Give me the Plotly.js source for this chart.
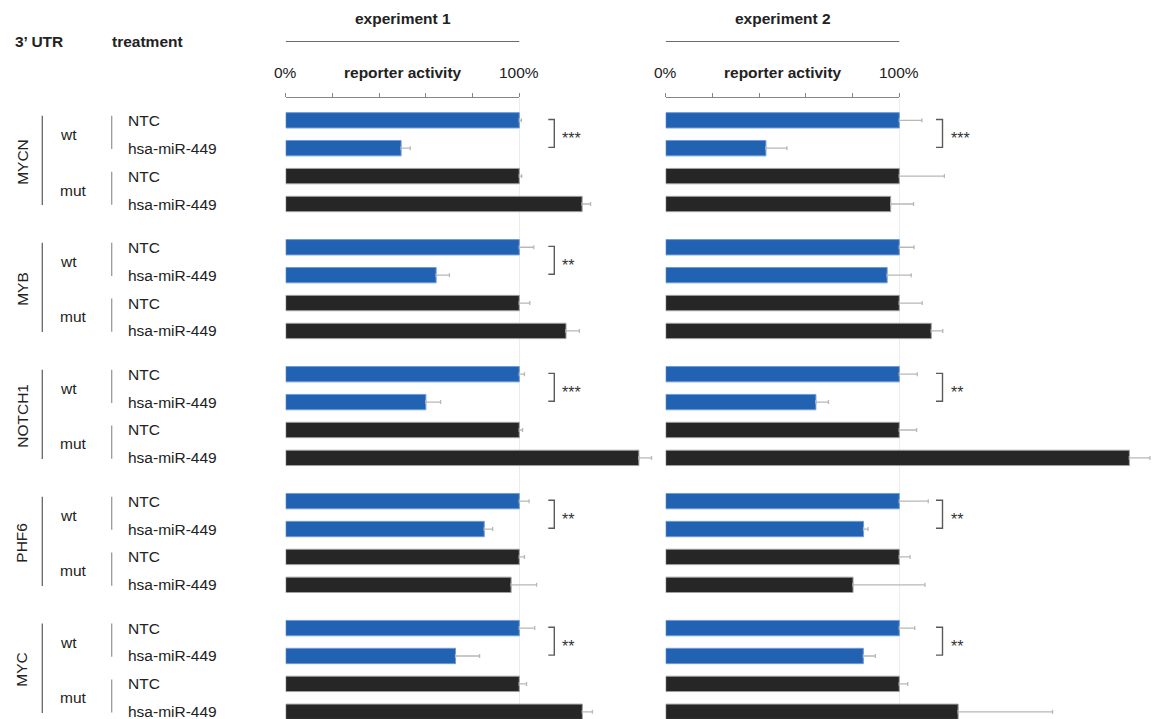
<!DOCTYPE html>
<html>
<head>
<meta charset="utf-8">
<script src="https://cdn.plot.ly/plotly-3.0.1.min.js"></script>
<style>
  html, body { margin: 0; padding: 0; background: #ffffff; }
  #chart { width: 1157px; height: 719px; }
</style>
</head>
<body>
<div id="chart"></div>
<script>
// ---- data ----
const genes = ['MYCN', 'MYB', 'NOTCH1', 'PHF6', 'MYC'];
const utrTypes = ['wt', 'mut'];
const treatments = ['NTC', 'hsa-miR-449'];

// reporter activity (% of NTC), row order: gene > wt/mut > NTC/hsa-miR-449
const exp1Activity = [100, 49.4, 100, 126.9,  100, 64.4, 100, 120.0,  100, 60.0, 100, 151.2,  100, 85.0, 100, 96.5,  100, 72.7, 100, 127.0];
const exp1Error    = [0.9, 3.9, 1.0, 3.6,     6.2, 5.7, 4.5, 5.7,     2.2, 6.3, 1.4, 5.4,     4.2, 3.6, 2.2, 10.9,    6.6, 10.3, 3.1, 4.3];
const exp2Activity = [100, 42.9, 100, 96.3,   100, 94.8, 100, 113.7,  100, 64.3, 100, 198.5,  100, 84.7, 100, 80.2,   100, 84.6, 100, 125.2];
const exp2Error    = [9.7, 9.0, 19.3, 9.8,    6.3, 10.3, 9.8, 4.9,    7.7, 5.4, 7.4, 8.8,     12.4, 1.9, 4.6, 30.8,   6.6, 5.1, 3.6, 40.4];

// significance of wt NTC vs wt hsa-miR-449, per gene
const exp1Stars = ['***', '**', '***', '**', '**'];
const exp2Stars = ['***', '', '**', '**', '**'];

// ---- geometry & style ----
const W = 1157, H = 719, TOP = 98;
const GROUP_STEP = 4.55;
const BLUE = '#2262b3', BLUE_EDGE = '#6f9bd8';
const DARK = '#262626', DARK_EDGE = '#a0a0a0';
const TEXT = '#222222';
const FONT = 'Liberation Sans, Arial, sans-serif';
const PX_PER_PCT = 2.336;
const EXP1_X0 = 285.7, EXP2_X0 = 665.7;

const px = v => v / W;                       // horizontal pixel -> paper
const py = v => (H - v) / (H - TOP);         // vertical pixel -> paper

// row positions on the category axis
const rowPos = [], rowUtr = [], rowTreat = [], rowGene = [];
genes.forEach((g, gi) => {
  utrTypes.forEach((u, ui) => {
    treatments.forEach((t, ti) => {
      rowPos.push(gi * GROUP_STEP + ui * 2 + ti);
      rowUtr.push(u); rowTreat.push(t); rowGene.push(g);
    });
  });
});

function barTrace(values, errors, xa) {
  return {
    type: 'bar', orientation: 'h',
    x: values, y: rowPos, width: 0.55,
    xaxis: xa, yaxis: 'y',
    marker: {
      color: rowUtr.map(u => u === 'wt' ? BLUE : DARK),
      line: { color: rowUtr.map(u => u === 'wt' ? BLUE_EDGE : DARK_EDGE), width: 1 }
    },
    error_x: {
      type: 'data', symmetric: false,
      array: errors, arrayminus: errors.map(() => 0),
      color: '#b8b8b8', thickness: 1.3, width: 2
    },
    hoverinfo: 'skip', showlegend: false, cliponaxis: false
  };
}

// the scale axes need a (empty) trace each so that they are drawn
const traces = [
  { type: 'scatter', x: [], y: [], xaxis: 'x3', yaxis: 'y', showlegend: false, hoverinfo: 'skip' },
  { type: 'scatter', x: [], y: [], xaxis: 'x4', yaxis: 'y', showlegend: false, hoverinfo: 'skip' },
  barTrace(exp1Activity, exp1Error, 'x'),
  barTrace(exp2Activity, exp2Error, 'x2')
];

const yBottom = (H - 120.3) / 27.9;
const yTop = (TOP - 120.3) / 27.9;

function panelAxis(x0) {
  const end = x0 === EXP1_X0 ? 660 : W;
  return {
    domain: [px(x0), px(end)],
    range: [0, (end - x0) / PX_PER_PCT],
    anchor: 'y',
    tickvals: [100], showticklabels: false, ticks: '',
    showgrid: true, gridcolor: '#ececec', gridwidth: 1.5,
    zeroline: false, showline: false, fixedrange: true
  };
}
function scaleAxis(x0) {
  return {
    domain: [px(x0), px(x0 + 100 * PX_PER_PCT)],
    range: [0, 100], anchor: 'y', side: 'top',
    showline: true, linecolor: '#858585', linewidth: 1,
    tickvals: [0, 20, 40, 60, 80, 100], ticks: 'outside', ticklen: 4,
    tickcolor: '#858585', tickwidth: 1,
    showticklabels: false, showgrid: false, zeroline: false, fixedrange: true
  };
}

const annotations = [];
const shapes = [];
const txt = (text, opts) => Object.assign({
  text: text, showarrow: false,
  font: { family: FONT, size: 15.5, color: TEXT }
}, opts);

// column headers
annotations.push(txt('<b>3\u2019 UTR</b>', { xref: 'paper', yref: 'paper', x: px(38.8), y: py(41), xanchor: 'center', yanchor: 'middle' }));
annotations.push(txt('<b>treatment</b>', { xref: 'paper', yref: 'paper', x: px(147.7), y: py(41), xanchor: 'center', yanchor: 'middle' }));

// experiment headers and scale labels
[['x', 'experiment 1'], ['x2', 'experiment 2']].forEach(([xa, title]) => {
  annotations.push(txt('<b>' + title + '</b>', { xref: xa, yref: 'paper', x: 50, y: py(18.5), xanchor: 'center', yanchor: 'middle' }));
  annotations.push(txt('0%', { xref: xa, yref: 'paper', x: 0, y: py(72), xanchor: 'center', yanchor: 'middle' }));
  annotations.push(txt('100%', { xref: xa, yref: 'paper', x: 100, y: py(72), xanchor: 'center', yanchor: 'middle' }));
  annotations.push(txt('<b>reporter activity</b>', { xref: xa, yref: 'paper', x: 50, y: py(72), xanchor: 'center', yanchor: 'middle' }));
  shapes.push({ type: 'line', xref: xa, yref: 'paper', x0: 0, x1: 100, y0: py(41.5), y1: py(41.5), line: { color: '#6a6a6a', width: 1 } });
});

// row labels and grouping lines
genes.forEach((g, gi) => {
  const base = gi * GROUP_STEP;
  annotations.push(txt(g, { xref: 'paper', yref: 'y', x: px(21.7), y: base + 1.5, textangle: -90, xanchor: 'center', yanchor: 'middle' }));
  shapes.push({ type: 'line', xref: 'paper', yref: 'y', x0: px(42.3), x1: px(42.3), y0: base - 0.16, y1: base + 3.04, line: { color: '#666666', width: 1.3 } });
  utrTypes.forEach((u, ui) => {
    const r = base + ui * 2;
    annotations.push(txt(u, { xref: 'paper', yref: 'y', x: px(57.5), y: r + 0.5, xanchor: 'left', yanchor: 'middle' }));
    shapes.push({ type: 'line', xref: 'paper', yref: 'y', x0: px(111.7), x1: px(111.7), y0: r - 0.16, y1: r + 1.03, line: { color: '#9a9a9a', width: 1.3 } });
    treatments.forEach((t, ti) => {
      annotations.push(txt(t, { xref: 'paper', yref: 'y', x: px(125.5), y: r + ti, xanchor: 'left', yanchor: 'middle' }));
    });
  });
});

// significance brackets between wt NTC and wt hsa-miR-449
function brackets(stars, xa, xl, xr) {
  stars.forEach((s, gi) => {
    if (!s) return;
    const y0 = gi * GROUP_STEP - 0.03, y1 = gi * GROUP_STEP + 0.97;
    shapes.push({
      type: 'path', xref: xa, yref: 'y',
      path: `M ${xl} ${y0} L ${xr} ${y0} L ${xr} ${y1} L ${xl} ${y1}`,
      line: { color: '#5a5a5a', width: 1.4 }
    });
    annotations.push(txt(s, {
      xref: xa, yref: 'y', x: xr + 2.6, y: gi * GROUP_STEP + 0.5,
      xanchor: 'left', yanchor: 'middle', yshift: -4,
      font: { family: FONT, size: 16, color: '#333333' }
    }));
  });
}
brackets(exp1Stars, 'x', (548.3 - EXP1_X0) / PX_PER_PCT, (554.3 - EXP1_X0) / PX_PER_PCT);
brackets(exp2Stars, 'x2', (936.0 - EXP2_X0) / PX_PER_PCT, (942.5 - EXP2_X0) / PX_PER_PCT);

const layout = {
  width: W, height: H,
  margin: { l: 0, r: 0, t: TOP, b: 0, pad: 0 },
  paper_bgcolor: '#ffffff', plot_bgcolor: 'rgba(0,0,0,0)',
  showlegend: false, barmode: 'overlay',
  font: { family: FONT, size: 15, color: TEXT },
  xaxis: panelAxis(EXP1_X0),
  xaxis2: panelAxis(EXP2_X0),
  xaxis3: scaleAxis(EXP1_X0),
  xaxis4: scaleAxis(EXP2_X0),
  yaxis: {
    range: [yBottom, yTop], domain: [0, 1],
    showgrid: false, zeroline: false, showline: false,
    showticklabels: false, ticks: '', fixedrange: true
  },
  annotations: annotations,
  shapes: shapes
};

Plotly.newPlot('chart', traces, layout, { staticPlot: true, displayModeBar: false });
</script>
</body>
</html>
